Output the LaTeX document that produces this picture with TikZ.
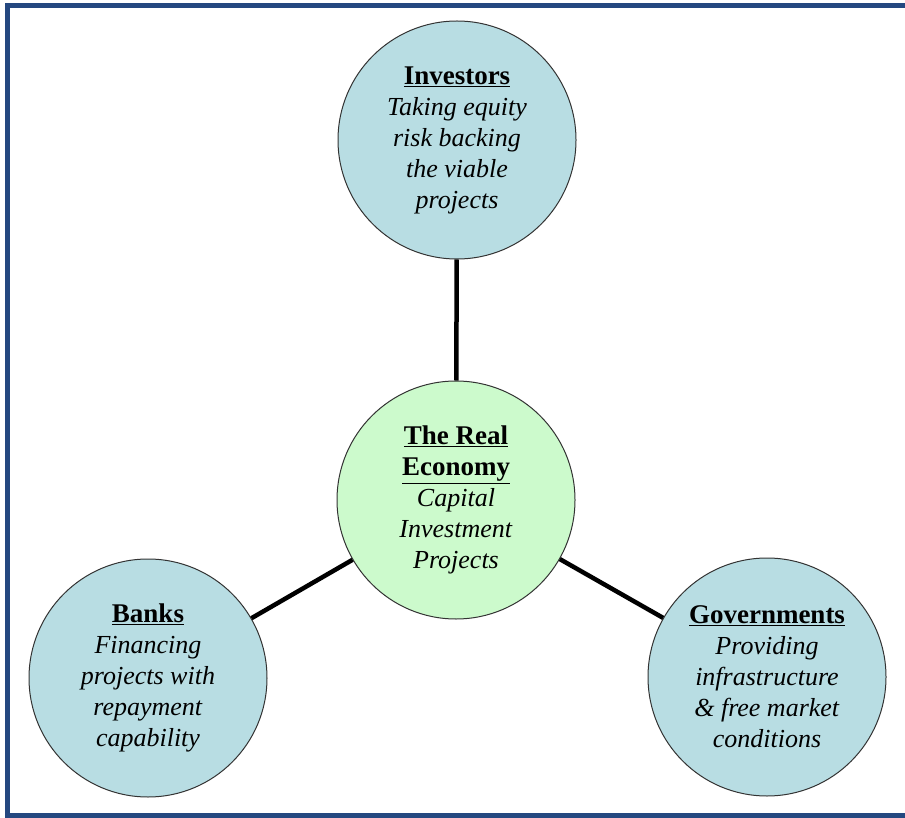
\documentclass[tikz,border=0pt]{standalone}
\usepackage{fontspec}
\setmainfont{Liberation Serif}
\definecolor{framebl}{RGB}{36,72,128}
\definecolor{playerbl}{RGB}{184,221,227}
\definecolor{coregr}{RGB}{204,250,204}
\newcommand{\heading}[1]{{\fontsize{27}{31}\selectfont\underline{\textbf{#1}}}}

\begin{document}
\begin{tikzpicture}[x=1pt,y=-1pt]
        \tikzstyle{every node}=[circle,draw=black!80,line width=1pt,inner sep=0pt,minimum size=238pt,align=center,font=\fontsize{26}{31}\selectfont]
        \tikzstyle{player}=[fill=playerbl]
        \tikzstyle{core}=[fill=coregr]
        \tikzstyle{link}=[line width=4.5pt]
        \useasboundingbox (0,0) rectangle (905,818);
        \draw[framebl,line width=5pt] (905,5.5) -- (7.5,5.5) -- (7.5,815.5) -- (905,815.5);
        \node[player] (inv) at (457,140) {\heading{Investors}\\ \textit{Taking equity}\\ \textit{risk backing}\\ \textit{the viable}\\ \textit{projects}};
        \node[core] (eco) at (456,500) {\heading{The Real}\\ \heading{Economy}\\ \textit{Capital}\\ \textit{Investment}\\ \textit{Projects}};
        \node[player] (bank) at (148,678) {\heading{Banks}\\ \textit{Financing}\\ \textit{projects with}\\ \textit{repayment}\\ \textit{capability}};
        \node[player] (gov) at (767,677) {\heading{Governments}\\ \textit{Providing}\\ \textit{infrastructure}\\ \textit{\& free market}\\ \textit{conditions}};
        \draw[link] (inv) -- (eco);
        \draw[link] (eco) -- (bank);
        \draw[link] (eco) -- (gov);
    \end{tikzpicture}
\end{document}
